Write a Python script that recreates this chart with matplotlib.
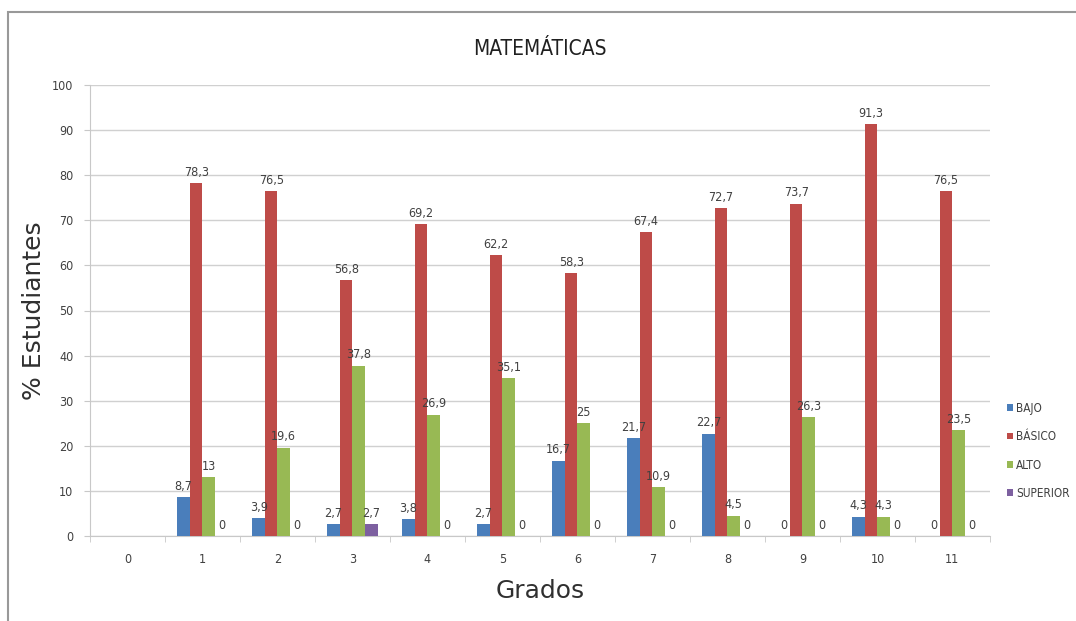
import numpy as np
import matplotlib.pyplot as plt
from matplotlib.patches import Rectangle

plt.rcParams['font.family'] = ['DejaVu Sans']
plt.rcParams['font.stretch'] = 'condensed'

grados = ["0", "1", "2", "3", "4", "5", "6", "7", "8", "9", "10", "11"]
bajo = [np.nan, 8.7, 3.9, 2.7, 3.8, 2.7, 16.7, 21.7, 22.7, 0, 4.3, 0]
basico = [np.nan, 78.3, 76.5, 56.8, 69.2, 62.2, 58.3, 67.4, 72.7, 73.7, 91.3, 76.5]
alto = [np.nan, 13, 19.6, 37.8, 26.9, 35.1, 25, 10.9, 4.5, 26.3, 4.3, 23.5]
superior = [np.nan, 0, 0, 2.7, 0, 0, 0, 0, 0, 0, 0, 0]

series = [("BAJO", bajo, "#4a7ebb"), ("BÁSICO", basico, "#be4b48"),
          ("ALTO", alto, "#98b954"), ("SUPERIOR", superior, "#7d60a0")]

fig = plt.figure(figsize=(10.76, 6.21), dpi=100)
ax = fig.add_axes([0.0836, 0.137, 0.8364, 0.726])

x = np.arange(len(grados))
w = 0.168
for i, (name, vals, col) in enumerate(series):
    pos = x + (i - 1.5) * w
    ax.bar(pos, vals, w, color=col, label=name, zorder=3)
    for p, v in zip(pos, vals):
        if np.isnan(v):
            continue
        txt = ("%.1f" % v).replace(".", ",") if v != int(v) else "%d" % v
        ax.annotate(txt, (p, v), xytext=(0, 3), textcoords="offset points",
                    ha="center", va="bottom", fontsize=9, color="#404040", zorder=4)

ax.set_xlim(-0.5, len(grados) - 0.5)
ax.set_ylim(0, 100)
ax.set_yticks(range(0, 101, 10))
ax.set_xticks(x)
ax.set_xticklabels(grados)
ax.set_xticks(np.arange(-0.5, len(grados), 1), minor=True)
ax.tick_params(axis="x", which="major", length=0, pad=12, labelsize=9, labelcolor="#404040")
ax.tick_params(axis="x", which="minor", length=4, color="#c8c8c8")
ax.tick_params(axis="y", length=4, color="#c8c8c8", labelsize=9, labelcolor="#404040", pad=8)
ax.grid(axis="y", color="#d0d0d0", linewidth=1, zorder=0)
for s in ["top", "right"]:
    ax.spines[s].set_visible(False)
ax.spines["left"].set_color("#c8c8c8")
ax.spines["bottom"].set_color("#c8c8c8")

ax.set_title("MATEMÁTICAS", fontsize=15, pad=22, color="#202020")
ax.set_xlabel("Grados", fontsize=18, fontstretch="normal", color="#303030", labelpad=10)
ax.set_ylabel("% Estudiantes", fontsize=18, fontstretch="normal", color="#303030", labelpad=4)

fig.legend(loc="center left", bbox_to_anchor=(0.926, 0.274), frameon=False,
           fontsize=8.5, handlelength=0.5, handleheight=0.5, handletextpad=0.25,
           labelspacing=1.3, labelcolor="#404040")

fig.patches.append(Rectangle((0.0075, -0.01), 1.0, 0.99, transform=fig.transFigure,
                             fill=False, edgecolor="#999999", linewidth=1.5))

fig.savefig("out.png", dpi=100)
